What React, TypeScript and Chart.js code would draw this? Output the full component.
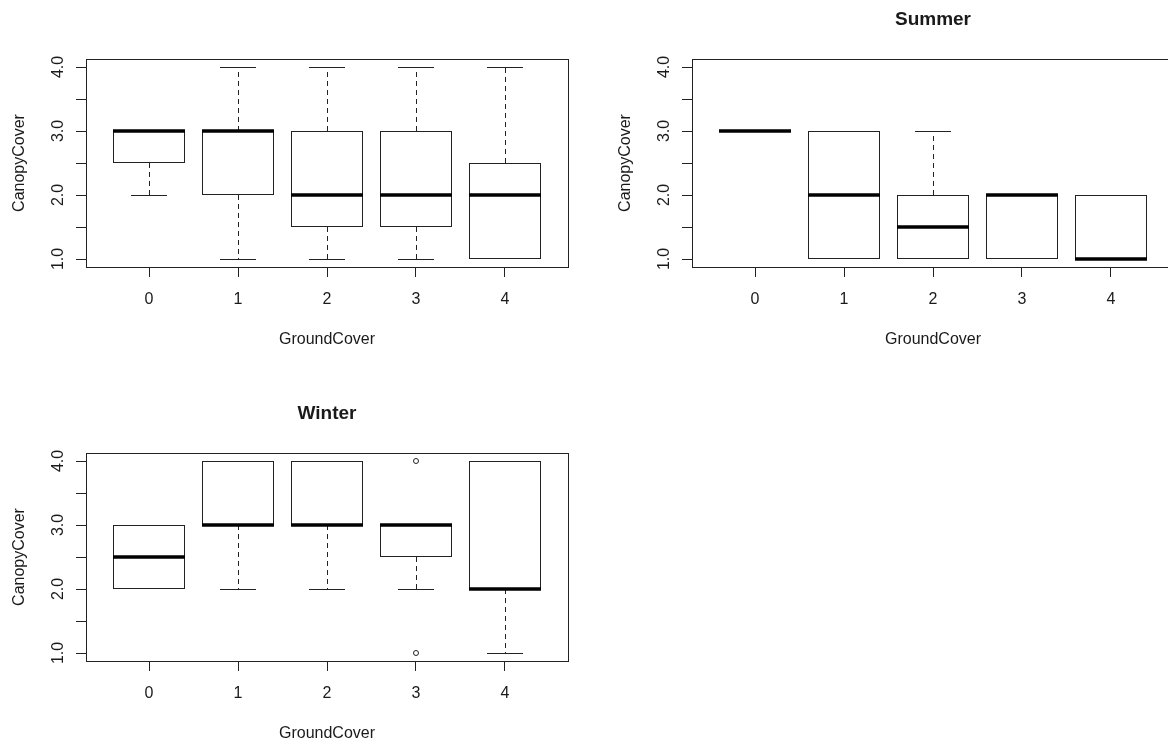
import React, { useEffect, useRef } from 'react';
import { Chart, registerables } from 'chart.js';

Chart.register(...registerables);

// ---------- data ----------
const groups = [0, 1, 2, 3, 4];
const groupLabels = ['0', '1', '2', '3', '4'];
const yTickValues = [1, 1.5, 2, 2.5, 3, 3.5, 4];
const yTickLabels = ['1.0', '', '2.0', '', '3.0', '', '4.0'];

// Panel 1 (untitled)
const allLow = [2, 1, 1, 1, 1];
const allQ1 = [2.5, 2, 1.5, 1.5, 1];
const allMed = [3, 3, 2, 2, 2];
const allQ3 = [3, 3, 3, 3, 2.5];
const allHigh = [3, 4, 4, 4, 4];
const allOutGroup: number[] = [];
const allOutValue: number[] = [];

// Summer
const summerLow = [3, 1, 1, 1, 1];
const summerQ1 = [3, 1, 1, 1, 1];
const summerMed = [3, 2, 1.5, 2, 1];
const summerQ3 = [3, 3, 2, 2, 2];
const summerHigh = [3, 3, 3, 2, 2];
const summerOutGroup: number[] = [];
const summerOutValue: number[] = [];

// Winter
const winterLow = [2, 2, 2, 2, 1];
const winterQ1 = [2, 3, 3, 2.5, 2];
const winterMed = [2.5, 3, 3, 3, 2];
const winterQ3 = [3, 4, 4, 3, 4];
const winterHigh = [3, 4, 4, 3, 4];
const winterOutGroup = [3, 3];
const winterOutValue = [4, 1];

const xTitle = 'GroundCover';
const yTitle = 'CanopyCover';

type Panel = {
  title: string;
  low: number[];
  q1: number[];
  med: number[];
  q3: number[];
  high: number[];
  outGroup: number[];
  outValue: number[];
  left: number;
  top: number;
};

const panels: Panel[] = [
  { title: '', low: allLow, q1: allQ1, med: allMed, q3: allQ3, high: allHigh, outGroup: allOutGroup, outValue: allOutValue, left: 0, top: 0 },
  { title: 'Summer', low: summerLow, q1: summerQ1, med: summerMed, q3: summerQ3, high: summerHigh, outGroup: summerOutGroup, outValue: summerOutValue, left: 606, top: 0 },
  { title: 'Winter', low: winterLow, q1: winterQ1, med: winterMed, q3: winterQ3, high: winterHigh, outGroup: winterOutGroup, outValue: winterOutValue, left: 0, top: 394 },
];

const LINE = '#222222';
const TEXT = '#1a1a1a';
const FONT = '"Liberation Sans", Arial, sans-serif';
const PW = 606;
const PH = 394;

function makeConfig(p: Panel): any {
  const boxPlugin = {
    id: 'boxWhiskers',
    afterDatasetsDraw(chart: any) {
      const { ctx, chartArea, scales } = chart;
      const ys = scales.y;
      const meta = chart.getDatasetMeta(0);
      ctx.save();
      meta.data.forEach((bar: any, i: number) => {
        const cx = bar.x;
        const w = bar.width;
        const yLow = ys.getPixelForValue(p.low[i]);
        const yQ1 = ys.getPixelForValue(p.q1[i]);
        const yQ3 = ys.getPixelForValue(p.q3[i]);
        const yHigh = ys.getPixelForValue(p.high[i]);
        const yMed = ys.getPixelForValue(p.med[i]);
        const xc = Math.round(cx) + 0.5;
        ctx.strokeStyle = LINE;
        ctx.lineWidth = 1;
        // whiskers (dashed)
        ctx.setLineDash([5, 4]);
        ctx.beginPath();
        if (p.high[i] > p.q3[i]) {
          ctx.moveTo(xc, yQ3);
          ctx.lineTo(xc, yHigh);
        }
        if (p.low[i] < p.q1[i]) {
          ctx.moveTo(xc, yQ1);
          ctx.lineTo(xc, yLow);
        }
        ctx.stroke();
        ctx.setLineDash([]);
        // staples
        const sw = w / 2;
        ctx.beginPath();
        if (p.high[i] > p.q3[i]) {
          ctx.moveTo(cx - sw / 2, Math.round(yHigh) + 0.5);
          ctx.lineTo(cx + sw / 2, Math.round(yHigh) + 0.5);
        }
        if (p.low[i] < p.q1[i]) {
          ctx.moveTo(cx - sw / 2, Math.round(yLow) + 0.5);
          ctx.lineTo(cx + sw / 2, Math.round(yLow) + 0.5);
        }
        ctx.stroke();
        // median
        ctx.strokeStyle = '#000';
        ctx.lineWidth = 3.5;
        ctx.lineCap = 'butt';
        ctx.beginPath();
        ctx.moveTo(cx - w / 2, yMed);
        ctx.lineTo(cx + w / 2, yMed);
        ctx.stroke();
      });
      // frame
      ctx.strokeStyle = LINE;
      ctx.lineWidth = 1;
      ctx.strokeRect(
        Math.round(chartArea.left) + 0.5,
        Math.round(chartArea.top) + 0.5,
        Math.round(chartArea.right - chartArea.left),
        Math.round(chartArea.bottom - chartArea.top)
      );
      ctx.restore();
    },
  };

  const hasTitle = p.title !== '';
  return {
    type: 'bar',
    data: {
      datasets: [
        {
          type: 'bar',
          data: groups.map((g, i) => ({ x: g, y: [p.q1[i], p.q3[i]] })),
          backgroundColor: '#ffffff',
          borderColor: LINE,
          borderWidth: 1,
          borderSkipped: false,
          inflateAmount: 0,
          categoryPercentage: 0.809,
          barPercentage: 1,
        },
        {
          type: 'scatter',
          data: p.outGroup.map((g, i) => ({ x: g, y: p.outValue[i] })),
          pointStyle: 'circle',
          pointRadius: 2.5,
          borderColor: LINE,
          backgroundColor: 'rgba(0,0,0,0)',
          borderWidth: 1,
        },
      ],
    },
    options: {
      responsive: false,
      animation: false,
      devicePixelRatio: 1,
      events: [],
      layout: { padding: { top: hasTitle ? 0 : 59, right: 38, bottom: 0, left: 0 } },
      plugins: {
        legend: { display: false },
        tooltip: { enabled: false },
        title: {
          display: hasTitle,
          fullSize: false,
          text: p.title,
          color: TEXT,
          font: { family: FONT, size: 19, weight: 'bold' },
          padding: { top: 8.6, bottom: 27.6 },
        },
      },
      scales: {
        x: {
          type: 'linear',
          offset: false,
          min: -0.7079,
          max: 4.7079,
          afterBuildTicks: (s: any) => {
            s.ticks = groups.map((v) => ({ value: v }));
          },
          afterFit: (s: any) => {
            s.height = 127;
          },
          grid: { offset: false, drawOnChartArea: false, drawTicks: true, tickLength: 10, color: LINE, lineWidth: 1 },
          border: { display: false },
          ticks: {
            callback: (v: number) => groupLabels[groups.indexOf(v)] ?? '',
            padding: 13,
            color: TEXT,
            font: { family: FONT, size: 16 },
            autoSkip: false,
            minRotation: 0,
            maxRotation: 0,
          },
          title: {
            display: true,
            text: xTitle,
            color: TEXT,
            font: { family: FONT, size: 16 },
            padding: { top: 0, bottom: 44.4 },
          },
        },
        y: {
          type: 'linear',
          min: 0.875,
          max: 4.125,
          afterBuildTicks: (s: any) => {
            s.ticks = yTickValues.map((v) => ({ value: v }));
          },
          afterFit: (s: any) => {
            s.width = 86;
          },
          grid: { drawOnChartArea: false, drawTicks: true, tickLength: 10, color: LINE, lineWidth: 1 },
          border: { display: false },
          ticks: {
            callback: (v: number) => yTickLabels[yTickValues.indexOf(v)] ?? '',
            padding: 6,
            minRotation: 90,
            maxRotation: 90,
            crossAlign: 'center',
            autoSkip: false,
            color: TEXT,
            font: { family: FONT, size: 16 },
          },
          title: {
            display: true,
            text: yTitle,
            color: TEXT,
            font: { family: FONT, size: 16 },
            padding: { top: 10.4, bottom: 0 },
          },
        },
      },
    },
    plugins: [boxPlugin],
  };
}

function BoxPanel({ p }: { p: Panel }) {
  const ref = useRef<HTMLCanvasElement | null>(null);
  useEffect(() => {
    if (!ref.current) return;
    const chart = new Chart(ref.current, makeConfig(p));
    return () => chart.destroy();
  }, [p]);
  return (
    <div style={{ position: 'absolute', left: p.left, top: p.top, width: PW, height: PH }}>
      <canvas ref={ref} width={PW} height={PH} style={{ display: 'block' }} />
    </div>
  );
}

export default function App() {
  return (
    <div
      style={{
        position: 'fixed',
        left: 0,
        top: 0,
        width: 1168,
        height: 742,
        overflow: 'hidden',
        background: '#ffffff',
      }}
    >
      {panels.map((p, i) => (
        <BoxPanel key={i} p={p} />
      ))}
    </div>
  );
}
